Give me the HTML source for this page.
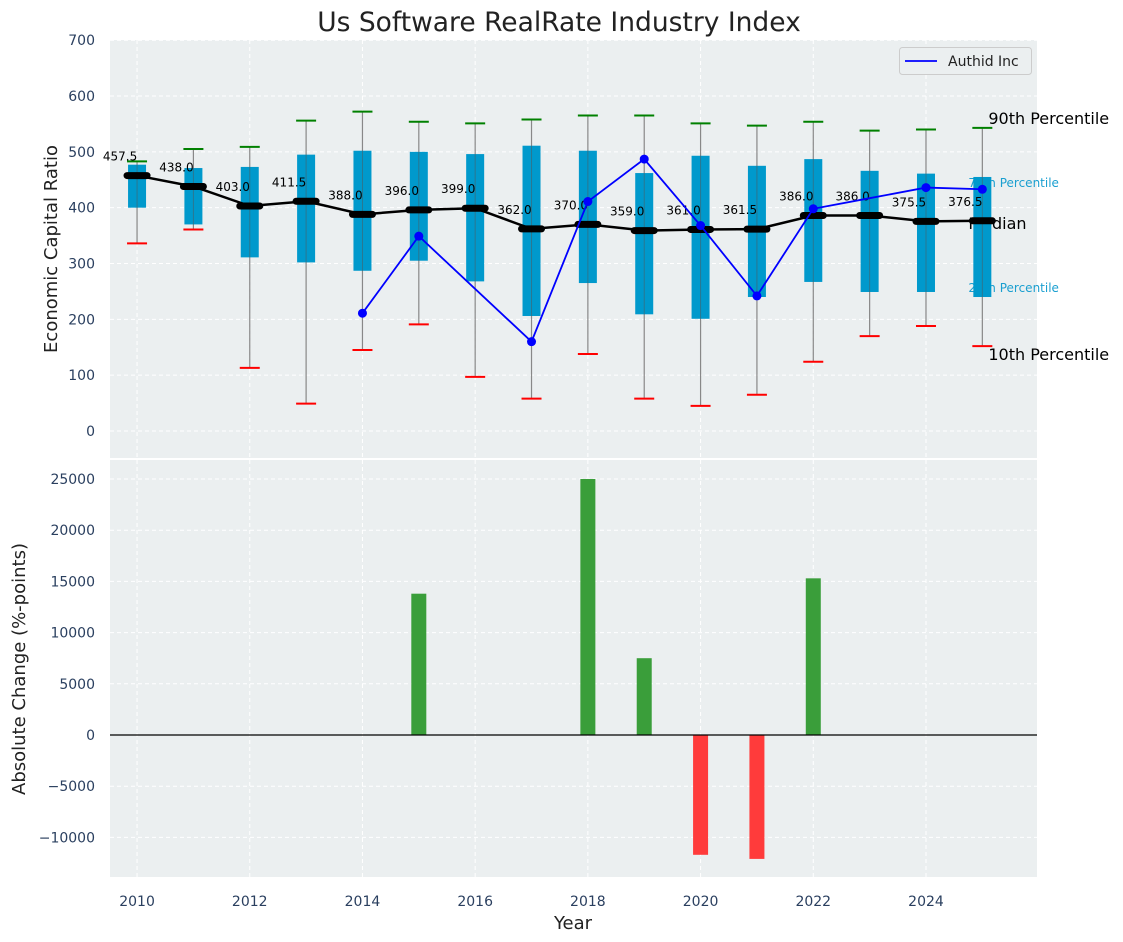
<!DOCTYPE html>
<html><head><meta charset="utf-8"><style>
body{margin:0;background:#fff;}
svg{display:block;font-family:"DejaVu Sans","Liberation Sans",sans-serif;}
</style></head><body>
<svg id="chart" width="1123" height="942"></svg>
<script>
const years=[2010,2011,2012,2013,2014,2015,2016,2017,2018,2019,2020,2021,2022,2023,2024,2025];
const p90=[483,505,509,556,572,554,551,558,565,565,551,547,554,538,540,543];
const p75=[477,471,473,495,502,500,496,511,502,462,493,475,487,466,461,455];
const median=[457.5,438.0,403.0,411.5,388.0,396.0,399.0,362.0,370.0,359.0,361.0,361.5,386.0,386.0,375.5,376.5];
const p25=[400,370,311,302,287,305,268,206,265,209,201,240,267,249,249,240];
const p10=[336,361,113,49,145,191,97,58,138,58,45,65,124,170,188,152];
const companyValues=[null,null,null,null,211,349,null,160,411,487,368,242,398,417,436,433];
const companyMarker=[false,false,false,false,true,true,false,true,true,true,true,true,true,false,true,true];
const changeValues=[0,0,0,0,0,13800,0,0,25000,7500,-11700,-12100,15300,0,0,0];
const topTicks=[0,100,200,300,400,500,600,700];
const bottomTicks=[-10000,-5000,0,5000,10000,15000,20000,25000];
const xTicks=[2010,2012,2014,2016,2018,2020,2022,2024];

const NS="http://www.w3.org/2000/svg";
const svg=document.getElementById('chart');
function el(tag,attrs,parent){const e=document.createElementNS(NS,tag);for(const k in attrs)e.setAttribute(k,attrs[k]);(parent||svg).appendChild(e);return e;}
const L=110,R=1037;
const x=v=>L+(v-2009.52)*(R-L)/(2025.97-2009.52);
const yT=v=>431-v*0.5583;
const yB=v=>735-v*0.01024;
const T1=40,B1=458,T2=460,B2=877;
const tickCol="#2a3f5f";
const fmt=v=>String(v).replace('-','\u2212');

const p1=el('rect',{x:L,y:T1,width:R-L,height:B1-T1,fill:"#ebeff0"});


const p2=el('rect',{x:L,y:T2,width:R-L,height:B2-T2,fill:"#ebeff0"});



xTicks.forEach(t=>{
  [[T1,B1],[T2,B2]].forEach(([a,b])=>{
    const g=el('line',{x1:x(t),x2:x(t),y1:a,y2:b,stroke:"#fff","stroke-dasharray":"4,3","stroke-width":1});
    
    
  });
  const tl=el('text',{x:x(t),y:906,"text-anchor":"middle","font-size":14,fill:tickCol});
  tl.textContent=t;
  
  
});
topTicks.forEach(t=>{
  const g=el('line',{x1:L,x2:R,y1:yT(t),y2:yT(t),stroke:"#fff","stroke-dasharray":"4,3"});
  
  
  const tl=el('text',{x:95,y:yT(t)+5,"text-anchor":"end","font-size":14,fill:tickCol});
  tl.textContent=fmt(t);
  
  
});
bottomTicks.forEach(t=>{
  const g=el('line',{x1:L,x2:R,y1:yB(t),y2:yB(t),stroke:"#fff","stroke-dasharray":"4,3"});
  
  
  const tl=el('text',{x:95,y:yB(t)+5,"text-anchor":"end","font-size":14,fill:tickCol});
  tl.textContent=fmt(t);
  
  
});

const last=years.length-1;
function ann(txt,xx,yy,size,col,name){const t=el('text',{x:xx,y:yy,"font-size":size,fill:col});t.textContent=txt;return t;}
ann("90th Percentile",x(years[last])+6,yT(p90[last])-4,16,"#000","label-90th");
ann("75th Percentile",x(years[last])-14,yT(p75[last])+10,12,"#1a9fd0","label-75th");
ann("Median",x(years[last])-14,yT(median[last])+8,16,"#000","label-median");
ann("25th Percentile",x(years[last])-14,yT(p25[last])-5,12,"#1a9fd0","label-25th");
ann("10th Percentile",x(years[last])+6,yT(p10[last])+14,16,"#000","label-10th");

years.forEach((yr,i)=>{
  const cx=x(yr);
  const w=el('line',{x1:cx,x2:cx,y1:yT(p90[i]),y2:yT(p10[i]),stroke:"#888","stroke-width":1.2});
  
  
  const c1=el('line',{x1:cx-10,x2:cx+10,y1:yT(p90[i]),y2:yT(p90[i]),stroke:"#008000","stroke-width":2});
  
  
  const c2=el('line',{x1:cx-10,x2:cx+10,y1:yT(p10[i]),y2:yT(p10[i]),stroke:"#ff0000","stroke-width":2});
  
  
  const b=el('rect',{x:cx-9,y:yT(p75[i]),width:18,height:yT(p25[i])-yT(p75[i]),fill:"#0099cc"});
  
  
  const w2=el('line',{x1:cx,x2:cx,y1:yT(p75[i]),y2:yT(p25[i]),stroke:"#555","stroke-width":1,opacity:0.5});
  
  
});
const mp=el('polyline',{points:years.map((yr,i)=>x(yr)+","+yT(median[i])).join(" "),fill:"none",stroke:"#000","stroke-width":2.5});


years.forEach((yr,i)=>{
  const m=el('line',{x1:x(yr)-10,x2:x(yr)+10,y1:yT(median[i]),y2:yT(median[i]),stroke:"#000","stroke-width":7,"stroke-linecap":"round"});
  
  
  const t=el('text',{x:x(yr)-17,y:yT(median[i])-15,"text-anchor":"middle","font-size":12,fill:"#000"});
  t.textContent=median[i].toFixed(1);
  
  
});
const pts=years.map((yr,i)=>companyValues[i]===null?null:x(yr)+","+yT(companyValues[i])).filter(p=>p);
const cl=el('polyline',{points:pts.join(" "),fill:"none",stroke:"#0000ff","stroke-width":1.8});


years.forEach((yr,i)=>{
  if(companyValues[i]===null||!companyMarker[i]) return;
  const d=el('circle',{cx:x(yr),cy:yT(companyValues[i]),r:4.5,fill:"#0000ff"});
  
  
});

const lg=el('g',{});


el('rect',{x:899.5,y:47.5,width:132,height:27,rx:3,fill:"#ebeff0",stroke:"#ccc"},lg);
el('line',{x1:905,x2:937,y1:61,y2:61,stroke:"#0000ff","stroke-width":1.8},lg);
const lt=el('text',{x:948,y:66,"font-size":14,fill:"#222"},lg);lt.textContent="Authid Inc";

years.forEach((yr,i)=>{
  const v=changeValues[i]; if(v===0) return;
  const b=el('rect',{x:x(yr)-7.5,y:Math.min(yB(v),yB(0)),width:15,height:Math.abs(yB(v)-yB(0)),fill:v>0?"#3a9e3a":"#ff3b3b"});
  
  
});
const zl=el('line',{x1:L,x2:R,y1:yB(0),y2:yB(0),stroke:"#000","stroke-width":1.2});



const tt=el('text',{x:559,y:31,"text-anchor":"middle","font-size":26.5,fill:"#222"});
tt.textContent="Us Software RealRate Industry Index";

const xt=el('text',{x:573,y:929,"text-anchor":"middle","font-size":18,fill:"#222"});xt.textContent="Year";

const y1=el('text',{transform:"translate(57,249) rotate(-90)","text-anchor":"middle","font-size":18,fill:"#222"});y1.textContent="Economic Capital Ratio";

const y2=el('text',{transform:"translate(25,669) rotate(-90)","text-anchor":"middle","font-size":18,fill:"#222"});y2.textContent="Absolute Change (%-points)";

</script>
</body></html>
